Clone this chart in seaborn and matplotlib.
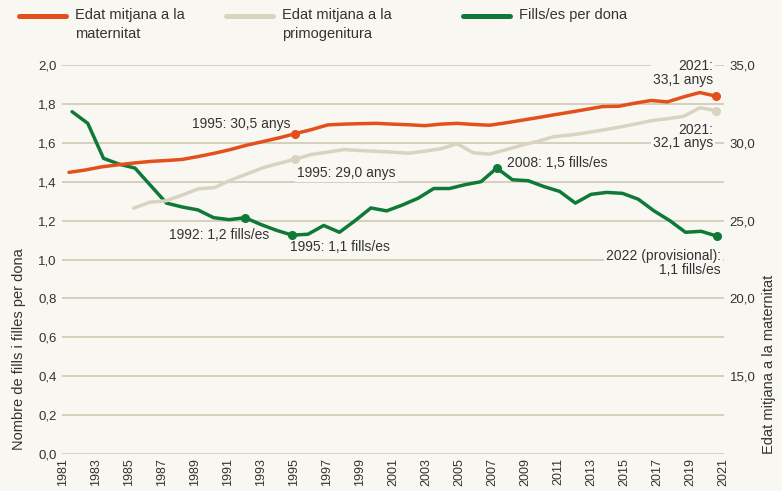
import matplotlib
matplotlib.use("Agg")
import matplotlib.pyplot as plt
from matplotlib.lines import Line2D
from matplotlib.ticker import FuncFormatter
import seaborn as sns
import pandas as pd

# ==================== Data ====================

years_fills = list(range(1981, 2023))
fills = [1.76, 1.70, 1.52, 1.49, 1.47, 1.38, 1.29, 1.27, 1.255, 1.215,
         1.205, 1.215, 1.18, 1.15, 1.125, 1.13, 1.175, 1.14, 1.20, 1.265,
         1.25, 1.28, 1.315, 1.365, 1.365, 1.385, 1.40, 1.47, 1.41, 1.405,
         1.375, 1.35, 1.29, 1.335, 1.345, 1.34, 1.31, 1.25, 1.20, 1.14,
         1.145, 1.12]

years_mat = list(range(1981, 2022))
edat_maternitat = [28.1, 28.25, 28.45, 28.58, 28.7, 28.8, 28.86, 28.93, 29.12, 29.33,
                   29.57, 29.85, 30.08, 30.32, 30.59, 30.85, 31.15, 31.2, 31.23, 31.25,
                   31.2, 31.16, 31.1, 31.2, 31.25, 31.18, 31.13, 31.28, 31.45, 31.62,
                   31.8, 31.97, 32.15, 32.33, 32.35, 32.55, 32.72, 32.63, 32.95, 33.23,
                   33.0]

years_primo = list(range(1985, 2022))
edat_primogenitura = [25.8, 26.18, 26.27, 26.64, 27.04, 27.12, 27.6, 28.0, 28.4, 28.68,
                      28.95, 29.25, 29.4, 29.57, 29.5, 29.45, 29.4, 29.33, 29.46, 29.62,
                      29.94, 29.36, 29.27, 29.55, 29.85, 30.1, 30.4, 30.5, 30.65, 30.82,
                      31.0, 31.2, 31.42, 31.55, 31.7, 32.25, 32.07]

x_tick_years = list(range(1981, 2022, 2))
left_ticks = [0.0, 0.2, 0.4, 0.6, 0.8, 1.0, 1.2, 1.4, 1.6, 1.8, 2.0]
right_ticks = [15, 20, 25, 30, 35]

series_labels = ["Edat mitjana a la\nmaternitat",
                 "Edat mitjana a la\nprimogenitura",
                 "Fills/es per dona"]

# highlighted points and their annotations
fills_notes = {1992: "1992: 1,2 fills/es", 1995: "1995: 1,1 fills/es",
               2008: "2008: 1,5 fills/es", 2022: "2022 (provisional):\n1,1 fills/es"}
mat_notes = {1995: "1995: 30,5 anys", 2021: "2021:\n33,1 anys"}
primo_notes = {1995: "1995: 29,0 anys", 2021: "2021:\n32,1 anys"}

# ==================== Style ====================

BG = '#F8F7F2'
GRID = '#D6CFBD'
TEXT = '#333333'
ORANGE = '#E4501C'
BEIGE = '#D9D3C1'
GREEN = '#0F7A37'

sns.set_theme(style='white', rc={'axes.facecolor': BG, 'figure.facecolor': BG})
plt.rcParams['font.family'] = ['Liberation Sans', 'DejaVu Sans']

W, H = 782, 491
fig = plt.figure(figsize=(W / 100, H / 100), dpi=100, facecolor=BG)
rect = [62 / W, 37 / H, 662 / W, 389 / H]

ax = fig.add_axes(rect, label='base')           # grid, x ticks, left ticks
axg = fig.add_axes(rect, label='fills')         # fertility line
axa = fig.add_axes(rect, label='ages')          # ages, right ticks

comma = FuncFormatter(lambda v, _: f"{v:.1f}".replace('.', ','))

# ---- base axis
ax.set_xlim(1980.94, 2021.06)
ax.set_ylim(0, 2.0)
ax.set_xticks(x_tick_years)
ax.set_xticklabels([str(y) for y in x_tick_years])
ax.set_yticks(left_ticks)
ax.yaxis.set_major_formatter(comma)
ax.grid(axis='y', color=GRID, linewidth=1.4)
ax.grid(axis='x', visible=False)
for s in ax.spines.values():
    s.set_visible(False)
ax.tick_params(axis='x', length=0, pad=3, labelsize=9, labelcolor=TEXT, rotation=90)
ax.tick_params(axis='y', length=0, pad=4, labelsize=9.5, labelcolor=TEXT)
ax.set_ylabel('Nombre de fills i filles per dona', loc='bottom', fontsize=10.5, color=TEXT)
ax.yaxis.set_label_coords(-0.055, 0.01)

# ---- fertility
df_f = pd.DataFrame({'any': years_fills, 'fills': fills})
sns.lineplot(data=df_f, x='any', y='fills', ax=axg, color=GREEN, linewidth=2.5,
             solid_capstyle='round', solid_joinstyle='round', zorder=2)
fv = dict(zip(years_fills, fills))
axg.plot(list(fills_notes), [fv[y] for y in fills_notes], 'o', ms=5.5, color=GREEN, zorder=3)
axg.set_xlim(1980.36, 2022.45)
axg.set_ylim(0, 2.0)
axg.set_axis_off()

# ---- ages
df_m = pd.DataFrame({'any': years_mat, 'edat': edat_maternitat})
df_p = pd.DataFrame({'any': years_primo, 'edat': edat_primogenitura})
sns.lineplot(data=df_p, x='any', y='edat', ax=axa, color=BEIGE, linewidth=2.5,
             solid_capstyle='round', solid_joinstyle='round', zorder=2)
sns.lineplot(data=df_m, x='any', y='edat', ax=axa, color=ORANGE, linewidth=2.5,
             solid_capstyle='round', solid_joinstyle='round', zorder=2)
mv = dict(zip(years_mat, edat_maternitat))
pv = dict(zip(years_primo, edat_primogenitura))
axa.plot(list(primo_notes), [pv[y] for y in primo_notes], 'o', ms=5.5, color=BEIGE, zorder=3)
axa.plot(list(mat_notes), [mv[y] for y in mat_notes], 'o', ms=5.5, color=ORANGE, zorder=3)
axa.set_xlim(1980.57, 2021.5)
axa.set_ylim(10, 35)
axa.set_frame_on(False)
axa.patch.set_visible(False)
axa.xaxis.set_visible(False)
axa.yaxis.tick_right()
axa.yaxis.set_label_position('right')
axa.set_yticks(right_ticks)
axa.yaxis.set_major_formatter(comma)
axa.tick_params(axis='y', length=0, pad=4, labelsize=9.5, labelcolor=TEXT)
axa.set_ylabel('Edat mitjana a la maternitat', loc='bottom', fontsize=10.5, color=TEXT)
axa.yaxis.set_label_coords(1.058, 0.0)
axa.set_xlabel('')
axg.set_xlabel('')

# ---- annotations
box = dict(boxstyle='square,pad=0.15', fc=BG, ec='none')


def note(axis, x, y, text, dx, dy, ha):
    axis.annotate(text, xy=(x, y), xytext=(dx, dy), textcoords='offset pixels',
                  ha=ha, va='center', multialignment=ha if ha != 'center' else 'center',
                  fontsize=10, color=TEXT, linespacing=0.95, bbox=box, zorder=1)


fills_offsets = {1992: (-26, -17, 'center'), 1995: (-2, -12, 'left'),
                 2008: (10, 5, 'left'), 2022: (4, -27, 'right')}
mat_offsets = {1995: (-5, 10, 'right'), 2021: (-3, 23, 'right')}
primo_offsets = {1995: (2, -14, 'left'), 2021: (-3, -26, 'right')}

for yr, txt in fills_notes.items():
    dx, dy, ha = fills_offsets[yr]
    note(axg, yr, fv[yr], txt, dx, dy, ha)
for yr, txt in mat_notes.items():
    dx, dy, ha = mat_offsets[yr]
    note(axa, yr, mv[yr], txt, dx, dy, ha)
for yr, txt in primo_notes.items():
    dx, dy, ha = primo_offsets[yr]
    note(axa, yr, pv[yr], txt, dx, dy, ha)

# ---- legend (handles aligned with first text line)
legend_colors = [ORANGE, BEIGE, GREEN]
legend_x = [19, 226, 463]
for label, color, x0 in zip(series_labels, legend_colors, legend_x):
    fig.add_artist(Line2D([x0 / W, (x0 + 47) / W], [1 - 16 / H] * 2, color=color,
                          lw=3.6, solid_capstyle='round'))
    fig.text((x0 + 56) / W, 1 - 7.5 / H, label, ha='left', va='top',
             fontsize=10.5, color=TEXT, linespacing=1.5)

fig.savefig('out.png', dpi=100, facecolor=BG)
